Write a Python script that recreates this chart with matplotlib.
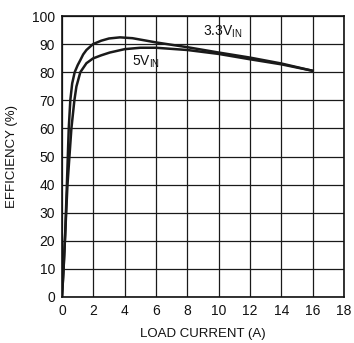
import matplotlib
matplotlib.use("Agg")
import matplotlib.pyplot as plt

# Efficiency vs. load current for two input voltages
load_33v = [0, 0.1, 0.2, 0.3, 0.43, 0.53, 0.65, 0.81, 1.0, 1.17, 1.35, 1.56, 1.98, 2.5, 3.0,
            3.7, 4.5, 6, 8, 10, 12, 14, 16]
eff_33v = [0, 10, 22, 38, 60, 70, 76, 80, 82.5, 84.3, 86.3, 87.9, 90.0, 91.2, 92.0,
           92.4, 92.1, 90.6, 88.9, 87.0, 85.2, 83.1, 80.5]

load_5v = [0, 0.1, 0.2, 0.35, 0.6, 0.79, 0.92, 1.17, 1.56, 1.98, 2.5, 3.05, 4.0, 5.0, 6.0,
           8, 10, 12, 14, 16]
eff_5v = [0, 10, 22, 40, 60, 70, 74.9, 80, 83.2, 84.9, 86.0, 87.0, 88.2, 88.7, 88.7,
          87.9, 86.5, 84.6, 82.8, 80.5]

x_ticks = [0, 2, 4, 6, 8, 10, 12, 14, 16, 18]
y_ticks = [0, 10, 20, 30, 40, 50, 60, 70, 80, 90, 100]

plt.rcParams['font.family'] = ['Liberation Sans', 'DejaVu Sans']

fig = plt.figure(figsize=(3.54, 3.43), dpi=100)
ax = fig.add_axes([62 / 354, 1 - 297 / 343, (344 - 62) / 354, (297 - 16) / 343])

ax.set_xlim(0, 18)
ax.set_ylim(0, 100)
ax.set_xticks(x_ticks)
ax.set_yticks(y_ticks)
ax.grid(True, color='#1a1a1a', linewidth=0.9)
ax.set_axisbelow(True)
for s in ax.spines.values():
    s.set_linewidth(1.2)
    s.set_color('#111111')
ax.tick_params(length=0, labelsize=10, pad=5, colors='#111111')

ax.plot(load_33v, eff_33v, color='#1a1a1a', linewidth=1.8, solid_joinstyle='round')
ax.plot(load_5v, eff_5v, color='#1a1a1a', linewidth=1.8, solid_joinstyle='round')

ax.text(9.0, 94.3, r'3.3V$_{\mathregular{IN}}$', fontsize=10, va='center', ha='left', color='#111111')
ax.text(4.5, 83.6, r'5V$_{\mathregular{IN}}$', fontsize=10, va='center', ha='left', color='#111111')

ax.set_xlabel('LOAD CURRENT (A)', fontsize=9.5, labelpad=7, color='#111111')
ax.set_ylabel('EFFICIENCY (%)', fontsize=9.5, labelpad=10, color='#111111')

fig.savefig('out.png', dpi=100)
